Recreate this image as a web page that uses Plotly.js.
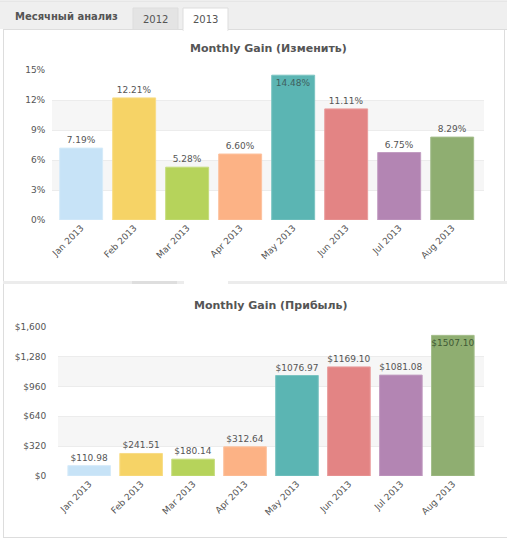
<!DOCTYPE html>
<html>
<head>
<meta charset="utf-8">
<script src="https://cdn.plot.ly/plotly-3.0.1.min.js"></script>
<style>
html,body{margin:0;padding:0;background:#fff;}
#chart{width:507px;height:541px;}
</style>
</head>
<body>
<div id="chart"></div>
<script>
// ---- data ----
const months = ["Jan 2013","Feb 2013","Mar 2013","Apr 2013","May 2013","Jun 2013","Jul 2013","Aug 2013"];
const gainPct = [7.19, 12.21, 5.28, 6.60, 14.48, 11.11, 6.75, 8.29];
const profit = [110.98, 241.51, 180.14, 312.64, 1076.97, 1169.10, 1081.08, 1507.10];
const barColors = ["#c7e3f7","#f6d366","#b6d35b","#fcb285","#5bb5b3","#e38484","#b385b3","#8fae71"];
const barEdges = ["#d6ebf9","#f8dc86","#c5dc7c","#fdc29f","#7cc4c2","#e99d9d","#c29dc2","#a5be8d"];
const tabTitle = "Месячный анализ";
const tabYears = ["2012","2013"];
const title1 = "Monthly Gain (Изменить)";
const title2 = "Monthly Gain (Прибыль)";

const W = 507, H = 541;
const px = x => x / W;
const py = y => 1 - y / H;
const FONT = "DejaVu Sans, Verdana, sans-serif";
const TXT = "#555555";

const pctText = gainPct.map(v => v.toFixed(2) + "%");
const profText = profit.map(v => "$" + v.toFixed(2));
const pctPos = gainPct.map(v => v > 13.5 ? "inside" : "outside");
const profPos = profit.map(v => v > 1450 ? "inside" : "outside");

const trace1 = {
  type: "bar", x: months, y: gainPct, xaxis: "x", yaxis: "y",
  marker: {color: barColors, line: {color: barEdges, width: 1}},
  width: 0.81,
  text: pctText, textposition: pctPos, insidetextanchor: "end",
  textangle: 0, constraintext: "none", cliponaxis: false,
  textfont: {family: FONT, size: 9, color: TXT},
  insidetextfont: {family: FONT, size: 9, color: "#3f5f5e"},
  outsidetextfont: {family: FONT, size: 9, color: TXT},
  hoverinfo: "x+y", showlegend: false
};
const trace2 = {
  type: "bar", x: months, y: profit, xaxis: "x2", yaxis: "y2",
  marker: {color: barColors, line: {color: barEdges, width: 1}},
  width: 0.82,
  text: profText, textposition: profPos, insidetextanchor: "end",
  textangle: 0, constraintext: "none", cliponaxis: false,
  textfont: {family: FONT, size: 9, color: TXT},
  insidetextfont: {family: FONT, size: 9, color: "#3f5a35"},
  outsidetextfont: {family: FONT, size: 9, color: TXT},
  hoverinfo: "x+y", showlegend: false
};

const line = "#dddddd";
const shapes = [
  // header bar
  {type:"rect", xref:"paper", yref:"paper", x0:px(0), x1:px(507), y0:py(29), y1:py(1), fillcolor:"#efefef", line:{width:0}, layer:"below"},
  {type:"line", xref:"paper", yref:"paper", x0:px(0), x1:px(507), y0:py(1), y1:py(1), line:{color:line, width:1}},
  {type:"line", xref:"paper", yref:"paper", x0:px(3), x1:px(507), y0:py(29.5), y1:py(29.5), line:{color:line, width:1}},
  // tab 2012
  {type:"rect", xref:"paper", yref:"paper", x0:px(133), x1:px(178), y0:py(29.5), y1:py(8), fillcolor:"#e4e4e4", line:{color:line, width:1}},
  // tab 2013
  {type:"rect", xref:"paper", yref:"paper", x0:px(183), x1:px(228), y0:py(30.5), y1:py(8), fillcolor:"#ffffff", line:{color:line, width:1}},
  {type:"line", xref:"paper", yref:"paper", x0:px(183.5), x1:px(227.5), y0:py(30.5), y1:py(30.5), line:{color:"#ffffff", width:2}},
  // panel borders
  {type:"line", xref:"paper", yref:"paper", x0:px(3.5), x1:px(3.5), y0:py(29), y1:py(538), line:{color:line, width:1}},
  {type:"line", xref:"paper", yref:"paper", x0:px(504.5), x1:px(504.5), y0:py(29), y1:py(281), line:{color:line, width:1}},
  {type:"line", xref:"paper", yref:"paper", x0:px(3), x1:px(507), y0:py(537.5), y1:py(537.5), line:{color:line, width:1}},
  // second header strip
  {type:"rect", xref:"paper", yref:"paper", x0:px(3), x1:px(507), y0:py(284), y1:py(281), fillcolor:"#ececec", line:{width:0}},
  {type:"rect", xref:"paper", yref:"paper", x0:px(132), x1:px(177), y0:py(284), y1:py(281), fillcolor:"#dedede", line:{width:0}},
  {type:"rect", xref:"paper", yref:"paper", x0:px(184), x1:px(228), y0:py(284), y1:py(281), fillcolor:"#ffffff", line:{width:0}},
  // bands top chart
  {type:"rect", xref:"x domain", yref:"y", x0:0, x1:1, y0:3, y1:6, fillcolor:"#f6f6f6", line:{width:0}, layer:"below"},
  {type:"rect", xref:"x domain", yref:"y", x0:0, x1:1, y0:9, y1:12, fillcolor:"#f6f6f6", line:{width:0}, layer:"below"},
  // bands bottom chart
  {type:"rect", xref:"x2 domain", yref:"y2", x0:0, x1:1, y0:320, y1:640, fillcolor:"#f6f6f6", line:{width:0}, layer:"below"},
  {type:"rect", xref:"x2 domain", yref:"y2", x0:0, x1:1, y0:960, y1:1280, fillcolor:"#f6f6f6", line:{width:0}, layer:"below"}
];

const annotations = [
  {xref:"paper", yref:"paper", x:px(13), y:py(17), xanchor:"left", yanchor:"middle", text:"<b>"+tabTitle+"</b>", showarrow:false, font:{family:FONT, size:10, color:"#555555"}},
  {xref:"paper", yref:"paper", x:px(155.5), y:py(19), xanchor:"center", yanchor:"middle", text:tabYears[0], showarrow:false, font:{family:FONT, size:10, color:"#555555"}},
  {xref:"paper", yref:"paper", x:px(205.5), y:py(19), xanchor:"center", yanchor:"middle", text:tabYears[1], showarrow:false, font:{family:FONT, size:10, color:"#555555"}},
  {xref:"paper", yref:"paper", x:px(268), y:py(48), xanchor:"center", yanchor:"middle", text:"<b>"+title1+"</b>", showarrow:false, font:{family:FONT, size:11, color:"#555555"}},
  {xref:"paper", yref:"paper", x:px(271), y:py(305), xanchor:"center", yanchor:"middle", text:"<b>"+title2+"</b>", showarrow:false, font:{family:FONT, size:11, color:"#555555"}}
];

const tickFont = {family: FONT, size: 9, color: TXT};
const layout = {
  width: W, height: H,
  margin: {l:0, r:0, t:0, b:0, pad:0},
  paper_bgcolor: "#ffffff", plot_bgcolor: "rgba(0,0,0,0)",
  bargap: 0.19,
  showlegend: false,
  xaxis: {domain:[px(52), px(484)], anchor:"y", range:[-0.55, 7.6], type:"category",
          tickangle:-45, tickfont:tickFont, showgrid:false, zeroline:false, showline:false, ticks:"", fixedrange:true},
  yaxis: {domain:[py(220), py(70)], anchor:"x", range:[0, 15], dtick:3, tick0:0, ticksuffix:"%",
          tickfont:tickFont, showgrid:true, gridcolor:"#ececec", gridwidth:1, zeroline:false, showline:false,
          ticks:"outside", ticklen:4, tickcolor:"rgba(0,0,0,0)", fixedrange:true},
  xaxis2: {domain:[px(58), px(484)], anchor:"y2", range:[-0.6, 7.6], type:"category",
          tickangle:-45, tickfont:tickFont, showgrid:false, zeroline:false, showline:false, ticks:"", fixedrange:true},
  yaxis2: {domain:[py(476), py(326.7)], anchor:"x2", range:[0, 1600], dtick:320, tick0:0, tickprefix:"$", tickformat:",d",
          tickfont:tickFont, showgrid:true, gridcolor:"#ececec", gridwidth:1, zeroline:false, showline:false,
          ticks:"outside", ticklen:9, tickcolor:"rgba(0,0,0,0)", fixedrange:true},
  shapes: shapes,
  annotations: annotations
};

Plotly.newPlot("chart", [trace1, trace2], layout, {displayModeBar:false, staticPlot:true});
</script>
</body>
</html>
